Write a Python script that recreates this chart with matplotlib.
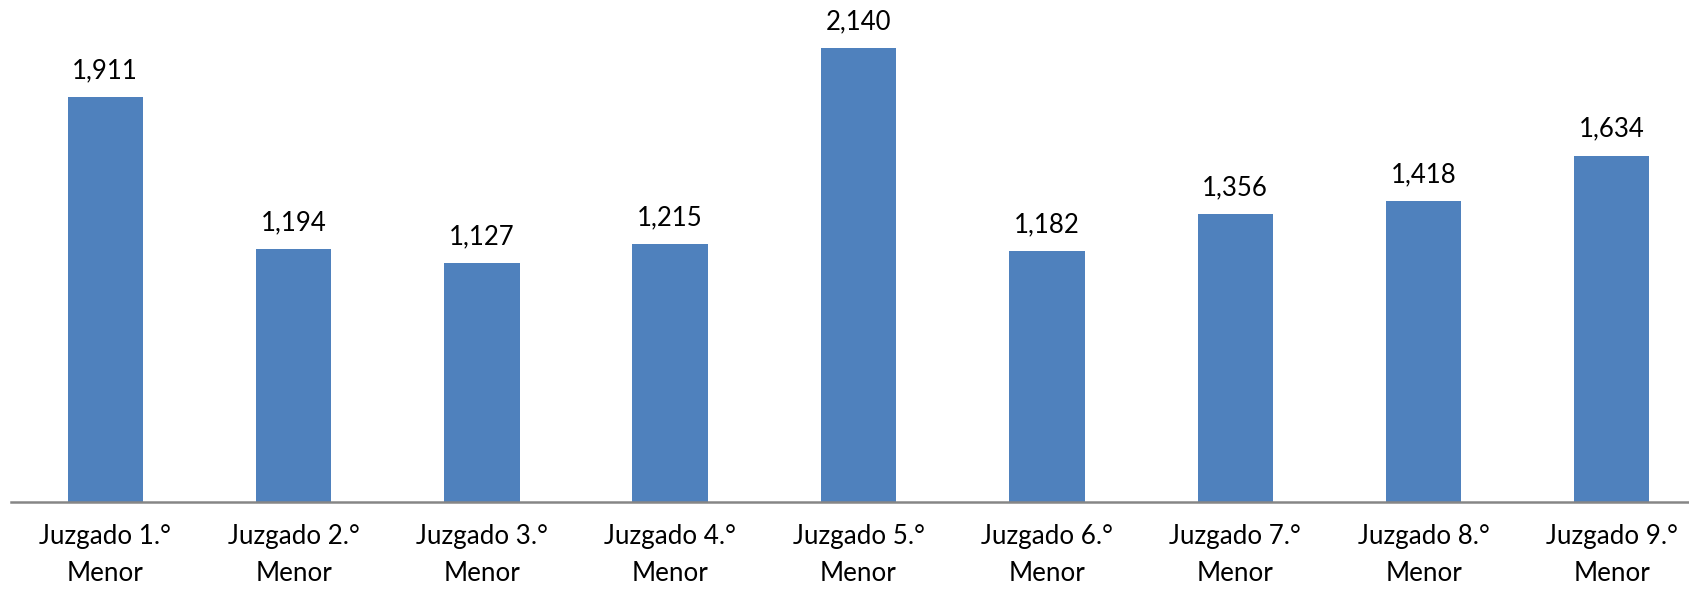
import matplotlib
matplotlib.use("Agg")
import matplotlib.pyplot as plt

categories = ["Juzgado 1.°\nMenor", "Juzgado 2.°\nMenor", "Juzgado 3.°\nMenor",
              "Juzgado 4.°\nMenor", "Juzgado 5.°\nMenor", "Juzgado 6.°\nMenor",
              "Juzgado 7.°\nMenor", "Juzgado 8.°\nMenor", "Juzgado 9.°\nMenor"]
values = [1911, 1194, 1127, 1215, 2140, 1182, 1356, 1418, 1634]

plt.rcParams["font.family"] = ["Lato", "DejaVu Sans"]

W, H = 1689, 590
fig = plt.figure(figsize=(W / 100, H / 100), dpi=100)
# axes spans 9 category slots; left edge at the axis line start, runs past right edge
ax = fig.add_axes([11 / W, 88.5 / H, 1695 / W, 501.5 / H])
x = range(len(values))
ax.bar(x, values, width=0.4, color="#4F81BD", edgecolor="none")
ax.set_xlim(-0.5, len(values) - 0.5)
ax.set_ylim(0, 2369)

for i, v in enumerate(values):
    ax.annotate(f"{v:,}", (i, v), xytext=(0, 10), textcoords="offset points",
                ha="center", va="bottom", fontsize=18.5, color="black")

ax.set_xticks(list(x))
ax.set_xticklabels(categories, fontsize=18.7, linespacing=1.62)
ax.tick_params(axis="x", length=0, pad=16)
ax.set_yticks([])
for s in ("top", "right", "left"):
    ax.spines[s].set_visible(False)
ax.spines["bottom"].set_color("#868686")
ax.spines["bottom"].set_linewidth(1.8)

fig.savefig("out.png", dpi=100)
